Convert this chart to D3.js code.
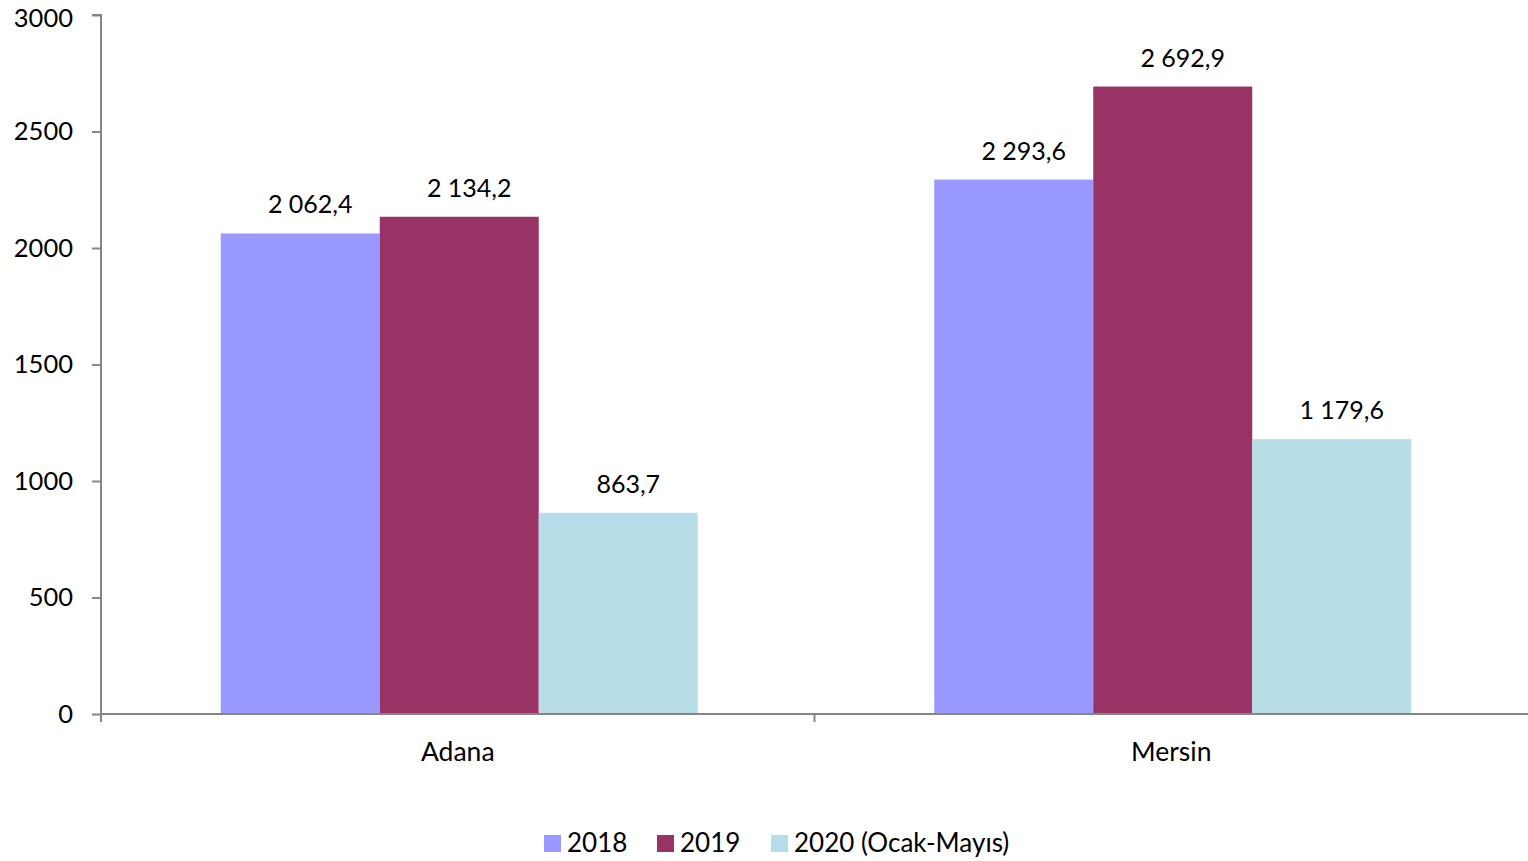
<!DOCTYPE html>
<html>
<head>
<meta charset="utf-8">
<script src="https://cdn.jsdelivr.net/npm/d3@7"></script>
<style>
  html, body { margin: 0; padding: 0; background: #fff; }
  svg { display: block; font-family: Lato, "Open Sans", sans-serif; }
</style>
</head>
<body>
<svg id="chart" width="1528" height="861"></svg>
<script>
// Provinces on the x axis
const categories = ["Adana", "Mersin"];
// Series names and their values per province
const seriesNames = ["2018", "2019", "2020 (Ocak-Mayıs)"];
const values2018 = [2062.4, 2293.6];
const values2019 = [2134.2, 2692.9];
const values2020 = [863.7, 1179.6];
const seriesColors = ["#9999FF", "#993366", "#B7DEE8"];
const yTicks = [0, 500, 1000, 1500, 2000, 2500, 3000];

const seriesValues = [values2018, values2019, values2020];

const svg = d3.select("#chart");
const margin = { left: 101, right: 0, top: 15, bottom: 147 };
const width = 1528, height = 861;
const plotBottom = height - margin.bottom; // 714

const x0 = d3.scaleBand()
  .domain(categories)
  .range([margin.left, width - margin.right])
  .paddingInner(0)
  .paddingOuter(0);

const groupFrac = 477 / 713.5;
const x1 = d3.scaleBand()
  .domain(seriesNames)
  .range([0, x0.bandwidth() * groupFrac]);

const y = d3.scaleLinear().domain([0, 3000]).range([plotBottom, margin.top]);

const fmt = v => {
  const s = v.toFixed(1).split(".");
  const intPart = s[0].replace(/\B(?=(\d{3})+(?!\d))/g, " ");
  return intPart + "," + s[1];
};

// Bars with value labels
categories.forEach((cat, ci) => {
  const gx = x0(cat) + (x0.bandwidth() - x0.bandwidth() * groupFrac) / 2 + 1.5;
  seriesNames.forEach((name, si) => {
    const v = seriesValues[si][ci];
    svg.append("rect")
      .attr("x", gx + x1(name))
      .attr("y", y(v))
      .attr("width", x1.bandwidth())
      .attr("height", y(0) - y(v))
      .attr("fill", seriesColors[si]);
    svg.append("text")
      .attr("x", gx + x1(name) + x1.bandwidth() / 2 + 10)
      .attr("y", y(v) - 20)
      .attr("text-anchor", "middle")
      .attr("font-size", 25)
      .attr("fill", "#000")
      .text(fmt(v));
  });
});

// Y axis
const yAxis = d3.axisLeft(y).tickValues(yTicks).tickSize(9).tickPadding(19).tickFormat(d3.format("d"));
const gy = svg.append("g").attr("transform", `translate(${margin.left},0)`).call(yAxis);
gy.select(".domain").attr("stroke", "#868686").attr("stroke-width", 2)
  .attr("d", `M-9,${margin.top}H0V${plotBottom + 8}`);
gy.selectAll(".tick line").attr("stroke", "#868686").attr("stroke-width", 2);
gy.selectAll(".tick text").attr("font-size", 25.5).attr("fill", "#000")
  .attr("font-family", "Lato, 'Open Sans', sans-serif");
// keep the topmost label inside the canvas
gy.selectAll(".tick text").filter(d => d === 3000).attr("dy", "0.45em");

// X axis
const xAxis = d3.axisBottom(x0).tickSize(0).tickPadding(28);
const gx = svg.append("g").attr("transform", `translate(0,${plotBottom})`).call(xAxis);
gx.select(".domain").attr("stroke", "#868686").attr("stroke-width", 2)
  .attr("d", `M${margin.left},0H${width}`);
gx.selectAll(".tick text").attr("font-size", 26.5).attr("fill", "#000")
  .attr("font-family", "Lato, 'Open Sans', sans-serif");
// category separators
const seps = [x0.range()[0], x0(categories[1])];
gx.selectAll(".sep").data(seps).enter().append("line")
  .attr("x1", d => d).attr("x2", d => d)
  .attr("y1", 0).attr("y2", 8)
  .attr("stroke", "#868686").attr("stroke-width", 2);

// Legend
const legendItems = [
  { name: seriesNames[0], x: 544 },
  { name: seriesNames[1], x: 657 },
  { name: seriesNames[2], x: 771 }
];
const lg = svg.append("g");
legendItems.forEach((it, i) => {
  lg.append("rect").attr("x", it.x).attr("y", 835).attr("width", 17).attr("height", 17)
    .attr("fill", seriesColors[i]);
  lg.append("text").attr("x", it.x + 23).attr("y", 852)
    .attr("font-size", 26).attr("fill", "#000").text(it.name);
});
</script>
</body>
</html>
